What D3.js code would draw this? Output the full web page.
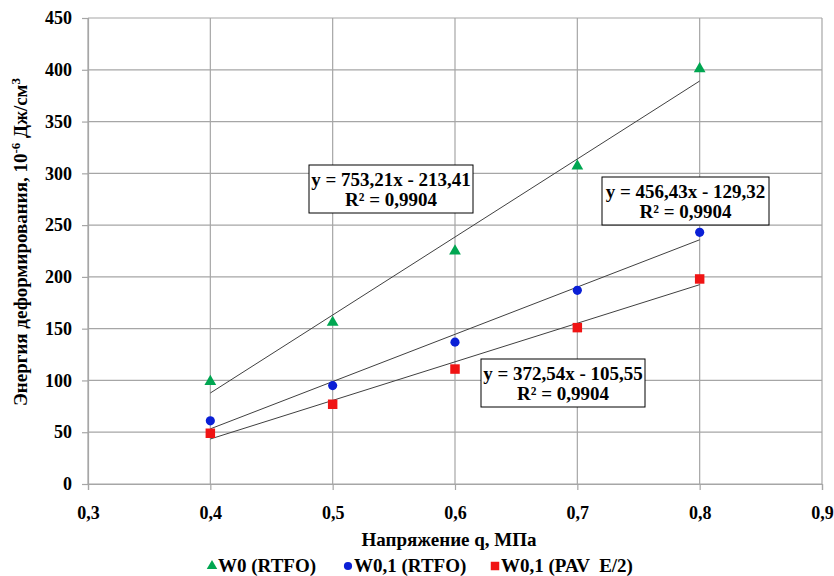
<!DOCTYPE html>
<html><head><meta charset="utf-8">
<script src="https://cdn.jsdelivr.net/npm/d3@7"></script>
<style>
body{margin:0;background:#fff;}
svg text{font-family:'Liberation Serif','Times New Roman',Times,serif !important;font-weight:bold;fill:#000;}
</style></head>
<body><svg id="c" width="834" height="576"></svg>
<script>
const xValues = [0.4, 0.5, 0.6, 0.7, 0.8];
const seriesNames = ["W0 (RTFO)", "W0,1 (RTFO)", "W0,1 (PAV  E/2)"];
const w0RTFO = [99, 156, 225, 307, 401];
const w01RTFO = [61, 95, 137, 187, 243];
const w01PAV = [49, 77, 111, 151, 198];
const trendSlopes = [753.21, 456.43, 372.54];
const trendIntercepts = [-213.41, -129.32, -105.55];
const eqLabels = ["y = 753,21x - 213,41", "y = 456,43x - 129,32", "y = 372,54x - 105,55"];
const r2Labels = ["R² = 0,9904", "R² = 0,9904", "R² = 0,9904"];
const xTicks = [0.3, 0.4, 0.5, 0.6, 0.7, 0.8, 0.9];
const yTicks = [0, 50, 100, 150, 200, 250, 300, 350, 400, 450];

const colors = ["#00a651", "#0a1fd6", "#f01414"];
const shapes = [d3.symbolTriangle, d3.symbolCircle, d3.symbolSquare];
const symSizes = [60, 66, 90];
const seriesData = [w0RTFO, w01RTFO, w01PAV];
const FONT = "'Liberation Serif', 'Times New Roman', serif";

const svg = d3.select("#c");
const x = d3.scaleLinear().domain([0.3, 0.9]).range([88, 822]);
const y = d3.scaleLinear().domain([0, 450]).range([484, 18]);
const fmt = d => d.toFixed(1).replace(".", ",");

// grid
svg.append("g").selectAll("line").data(yTicks).join("line")
  .attr("x1", x(0.3)).attr("x2", x(0.9)).attr("y1", d => y(d)).attr("y2", d => y(d))
  .attr("stroke", "#a6a6a6").attr("stroke-width", 1.2);
svg.append("g").selectAll("line").data(xTicks).join("line")
  .attr("y1", y(0)).attr("y2", y(450)).attr("x1", d => x(d)).attr("x2", d => x(d))
  .attr("stroke", "#a6a6a6").attr("stroke-width", 1.2);

// axes
const gx = svg.append("g").attr("transform", `translate(0,${y(0)})`)
  .call(d3.axisBottom(x).tickValues(xTicks).tickFormat(fmt).tickSize(6).tickPadding(16));
const gy = svg.append("g").attr("transform", `translate(${x(0.3)},0)`)
  .call(d3.axisLeft(y).tickValues(yTicks).tickSize(6).tickPadding(10));
[gx, gy].forEach(g => {
  g.attr("font-family", FONT).attr("font-size", 18);
  g.selectAll("path,line").attr("stroke", "#a6a6a6").attr("stroke-width", 1.2);
  g.selectAll("text").attr("font-size", 18).attr("font-family", FONT).attr("font-weight", "bold").attr("fill", "#000");
});

// trend lines
svg.append("g").selectAll("line").data(trendSlopes).join("line")
  .attr("x1", x(0.4)).attr("x2", x(0.8))
  .attr("y1", (s, i) => y(s * 0.4 + trendIntercepts[i]))
  .attr("y2", (s, i) => y(s * 0.8 + trendIntercepts[i]))
  .attr("stroke", "#404040").attr("stroke-width", 1);

// markers
seriesData.forEach((vals, i) => {
  svg.append("g").selectAll("path").data(vals).join("path")
    .attr("d", d3.symbol().type(shapes[i]).size(symSizes[i]))
    .attr("transform", (d, j) => `translate(${x(xValues[j])},${y(d)})`)
    .attr("fill", colors[i]);
});

// equation boxes
const boxes = [
  {x0: 309, y0: 165, w: 164, h: 48},
  {x0: 602, y0: 177, w: 167, h: 48},
  {x0: 481, y0: 359, w: 164, h: 48}
];
boxes.forEach((b, i) => {
  const g = svg.append("g");
  g.append("rect").attr("x", b.x0).attr("y", b.y0).attr("width", b.w).attr("height", b.h)
    .attr("fill", "#fff").attr("stroke", "#000").attr("stroke-width", 1);
  g.append("text").attr("x", b.x0 + b.w / 2).attr("y", b.y0 + 21).attr("text-anchor", "middle")
    .attr("font-family", FONT).attr("font-size", 19).text(eqLabels[i]);
  g.append("text").attr("x", b.x0 + b.w / 2).attr("y", b.y0 + 41).attr("text-anchor", "middle")
    .attr("font-family", FONT).attr("font-size", 19).text(r2Labels[i]);
});

// axis titles
svg.append("text").attr("x", 449).attr("y", 546).attr("text-anchor", "middle")
  .attr("font-family", FONT).attr("font-size", 19).text("Напряжение q, МПа");
const yt = svg.append("text").attr("transform", "translate(27,242) rotate(-90)")
  .attr("text-anchor", "middle").attr("font-family", FONT).attr("font-size", 19);
yt.append("tspan").text("Энергия деформирования,  10");
yt.append("tspan").attr("font-size", 13).attr("dy", -7).text("-6");
yt.append("tspan").attr("dy", 7).text(" Дж/см");
yt.append("tspan").attr("font-size", 13).attr("dy", -7).text("3");

// legend
const legX = [212, 348, 495];
seriesNames.forEach((n, i) => {
  svg.append("path").attr("d", d3.symbol().type(shapes[i]).size(symSizes[i] * 0.8))
    .attr("transform", `translate(${legX[i]},566)`).attr("fill", colors[i]);
  svg.append("text").attr("x", legX[i] + 6).attr("y", 572).attr("font-family", FONT).attr("font-size", 19)
    .style("white-space", "pre").text(n);
});
</script></body></html>
